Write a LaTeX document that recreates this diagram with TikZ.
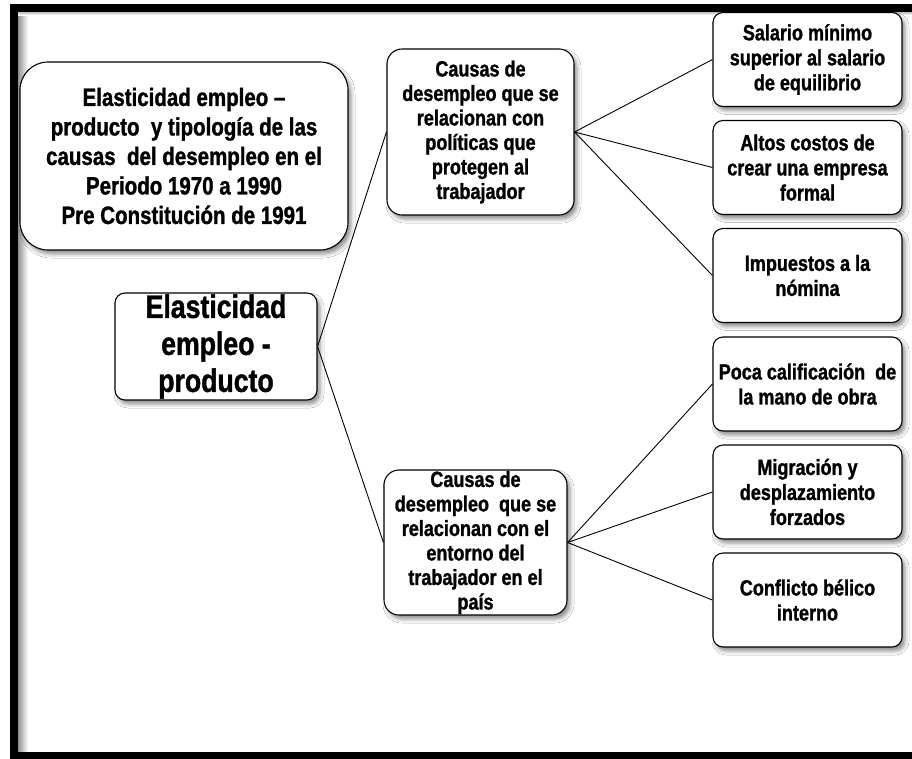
\documentclass[tikz,border=0pt]{standalone}
\usepackage{fontspec}
\setmainfont{Liberation Sans}[FakeStretch=0.82, BoldFeatures={FakeBold=1.2}]
\usepackage{tikz}
\usetikzlibrary{positioning}
\usetikzlibrary{shadows.blur}

\begin{document}
\begin{tikzpicture}[x=1pt, y=-1pt,
main/.style = {draw, fill=white, align=center, inner sep=0pt, line width=1.1pt, rounded corners=10pt, blur shadow={shadow xshift=3pt, shadow yshift=-4pt, shadow blur radius=4pt, shadow opacity=45}},
title/.style = {main, rounded corners=28pt, minimum width=328pt, minimum height=188pt, font=\bfseries\fontsize{25}{29.5}\selectfont},
root/.style = {main, minimum width=202pt, minimum height=107pt, font=\bfseries\fontsize{32.5}{37}\selectfont},
cause/.style = {main, rounded corners=15pt, font=\bfseries\fontsize{22}{24.5}\selectfont},
leaf/.style = {main, minimum width=189pt, minimum height=94pt, font=\bfseries\fontsize{22}{25}\selectfont},
node distance=108pt]
\useasboundingbox (0,0) rectangle (912,758);
\fill[white] (0,0) rectangle (912,758);
\fill[left color=black!45, right color=white] (17.5,11.5) rectangle (28,751);
\fill[top color=black!30, bottom color=white] (17.5,11.5) rectangle (912,15);
\draw[line width=8pt] (13.5,7.5) rectangle (940,756);
\node[title] (0) at (184,156) {Elasticidad empleo --\\ producto~ y tipología de las\\ causas~ del desempleo en el\\ Periodo 1970 a 1990\\ Pre Constitución de 1991};
\node[root] (1) at (216,346.5) {Elasticidad\\ empleo -\\ producto};
\node[cause, minimum width=187pt, minimum height=166pt] (2) at (480.5,132) {Causas de\\ desempleo que se\\ relacionan con\\ políticas que\\ protegen al\\ trabajador};
\node[cause, minimum width=183pt, minimum height=145pt] (3) at (475.5,542.5) {Causas de\\ desempleo~ que se\\ relacionan con el\\ entorno del\\ trabajador en el\\ país};
\node[leaf] (4) at (807.5,59.5) {Salario mínimo\\ superior al salario\\ de equilibrio};
\node[leaf] (5) [below of=4] {Altos costos de\\ crear una empresa\\ formal};
\node[leaf] (6) [below of=5] {Impuestos a la\\ nómina};
\node[leaf] (7) at (807.5,384) {Poca calificación~ de\\ la mano de obra};
\node[leaf] (8) [below of=7] {Migración y\\ desplazamiento\\ forzados};
\node[leaf] (9) [below of=8] {Conflicto bélico\\ interno};
\path[line width=0.9pt] (1.east) edge (2.west);
\path[line width=0.9pt] (1.east) edge (3.west);
\path[line width=0.9pt] (2.east) edge (4.west);
\path[line width=0.9pt] (2.east) edge (5.west);
\path[line width=0.9pt] (2.east) edge (6.west);
\path[line width=0.9pt] (3.east) edge (7.west);
\path[line width=0.9pt] (3.east) edge (8.west);
\path[line width=0.9pt] (3.east) edge (9.west);
\end{tikzpicture}
\end{document}
